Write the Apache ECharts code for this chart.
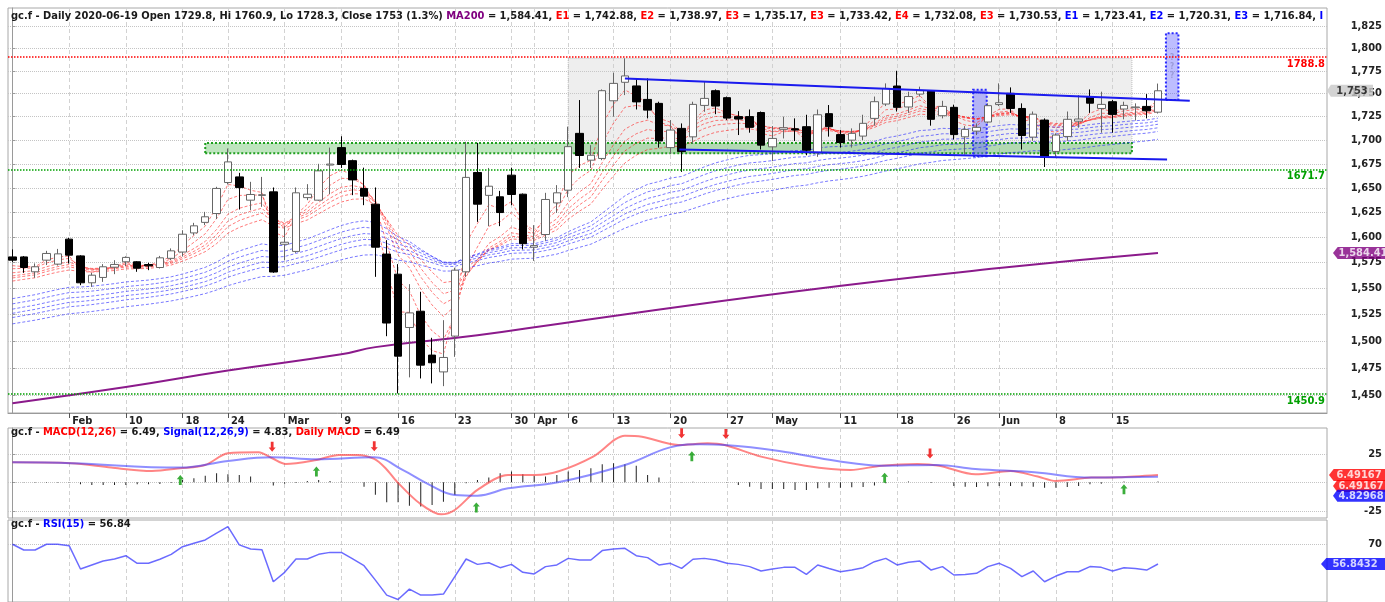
<!DOCTYPE html>
<html>
<head>
<meta charset="utf-8">
<title>gc.f Daily</title>
<script src="https://cdn.jsdelivr.net/npm/echarts@6/dist/echarts.min.js"></script>
<style>
  html, body { margin: 0; padding: 0; background: #fff; }
  #chart { width: 1385px; height: 602px; }
</style>
</head>
<body>
<div id="chart"></div>
<script>
// trading days on the chart
const dates = [
  '01-27','01-28','01-29','01-30','01-31',
  '02-03','02-04','02-05','02-06','02-07','02-10','02-11','02-12','02-13','02-14',
  '02-18','02-19','02-20','02-21','02-24','02-25','02-26','02-27','02-28',
  '03-02','03-03','03-04','03-05','03-06','03-09','03-10','03-11','03-12','03-13',
  '03-16','03-17','03-18','03-19','03-20','03-23','03-24','03-25','03-26','03-27',
  '03-30','03-31','04-01','04-02','04-03','04-06','04-07','04-08','04-09',
  '04-13','04-14','04-15','04-16','04-17','04-20','04-21','04-22','04-23','04-24',
  '04-27','04-28','04-29','04-30','05-01','05-04','05-05','05-06','05-07','05-08',
  '05-11','05-12','05-13','05-14','05-15','05-18','05-19','05-20','05-21','05-22',
  '05-26','05-27','05-28','05-29','06-01','06-02','06-03','06-04','06-05',
  '06-08','06-09','06-10','06-11','06-12','06-15','06-16','06-17','06-18','06-19'
];

const opens = [
  1580.6, 1580.6, 1566.0, 1577.4, 1573.5, 1598.2, 1581.6, 1555.3, 1560.5, 1570.5,
  1575.8, 1575.8, 1573.1, 1570.2, 1579.2, 1585.4, 1604.4, 1615.0, 1623.9, 1655.6,
  1661.4, 1637.5, 1642.4, 1646.0, 1593.1, 1586.0, 1640.1, 1637.5, 1673.7, 1692.0,
  1678.3, 1649.5, 1633.4, 1583.4, 1563.7, 1512.6, 1528.0, 1486.8, 1471.3, 1504.5,
  1566.0, 1666.0, 1642.4, 1640.9, 1663.2, 1643.6, 1590.2, 1602.8, 1634.7, 1647.7,
  1707.1, 1678.8, 1680.6, 1742.1, 1762.3, 1758.3, 1743.6, 1739.3, 1692.0, 1712.4,
  1703.4, 1737.1, 1753.1, 1745.5, 1725.0, 1725.0, 1729.4, 1692.8, 1711.4, 1712.0,
  1714.2, 1686.5, 1728.2, 1705.8, 1699.9, 1704.2, 1723.1, 1738.6, 1758.2, 1735.4,
  1749.4, 1753.1, 1726.0, 1735.0, 1703.4, 1709.5, 1719.2, 1738.0, 1750.2, 1733.8,
  1703.1, 1721.3, 1688.0, 1703.8, 1720.1, 1746.0, 1733.8, 1741.1, 1733.2, 1734.6,
  1736.0, 1729.8
];
const closes = [
  1577.4, 1570.2, 1570.9, 1584.0, 1583.6, 1582.3, 1555.3, 1562.7, 1570.9, 1573.2,
  1580.1, 1569.5, 1571.8, 1579.7, 1586.6, 1603.1, 1611.5, 1620.6, 1649.5, 1677.0,
  1650.4, 1643.3, 1643.0, 1565.8, 1595.1, 1645.0, 1643.6, 1667.7, 1674.7, 1674.3,
  1658.3, 1641.6, 1590.2, 1516.8, 1485.8, 1526.4, 1477.5, 1479.7, 1484.6, 1567.6,
  1660.9, 1633.4, 1651.8, 1624.9, 1643.3, 1593.7, 1591.8, 1638.2, 1645.0, 1693.0,
  1683.7, 1684.0, 1753.1, 1761.1, 1769.3, 1740.9, 1732.0, 1699.0, 1710.6, 1687.8,
  1738.2, 1744.7, 1736.4, 1723.4, 1722.4, 1713.5, 1694.6, 1701.7, 1713.1, 1710.6,
  1689.3, 1727.0, 1714.2, 1697.4, 1707.1, 1717.8, 1741.1, 1755.6, 1735.0, 1746.7,
  1753.1, 1722.1, 1736.0, 1705.8, 1711.3, 1713.5, 1736.8, 1740.0, 1733.8, 1704.8,
  1727.6, 1681.8, 1705.3, 1722.1, 1722.4, 1739.5, 1738.2, 1727.4, 1737.1, 1735.4,
  1731.3, 1753.0
];
const lows = [
  1575.7, 1565.0, 1560.2, 1572.6, 1572.1, 1574.1, 1553.0, 1551.4, 1556.2, 1563.7,
  1571.6, 1566.0, 1567.6, 1569.2, 1577.4, 1581.2, 1602.1, 1612.2, 1618.4, 1653.6,
  1628.0, 1627.3, 1630.7, 1565.0, 1577.4, 1584.6, 1637.5, 1636.8, 1643.6, 1670.7,
  1642.6, 1632.4, 1561.1, 1504.4, 1451.7, 1466.3, 1465.3, 1460.8, 1458.3, 1485.2,
  1561.1, 1615.5, 1611.2, 1611.2, 1632.4, 1588.0, 1576.7, 1596.5, 1624.5, 1640.6,
  1670.7, 1670.7, 1678.8, 1725.0, 1748.3, 1732.7, 1723.1, 1692.0, 1685.6, 1666.6,
  1696.3, 1730.2, 1727.6, 1721.3, 1705.3, 1707.8, 1690.0, 1677.8, 1701.7, 1699.0,
  1684.0, 1682.3, 1703.6, 1692.0, 1692.0, 1699.9, 1715.3, 1736.4, 1730.5, 1729.0,
  1746.7, 1715.3, 1723.1, 1700.6, 1684.6, 1705.3, 1717.7, 1736.4, 1729.0, 1690.0,
  1699.2, 1671.7, 1682.3, 1699.2, 1713.1, 1729.0, 1707.8, 1707.8, 1722.1, 1720.8,
  1723.1, 1728.3
];
const highs = [
  1588.0, 1581.5, 1574.2, 1586.6, 1588.5, 1599.5, 1582.3, 1565.0, 1573.5, 1577.4,
  1581.2, 1576.4, 1574.8, 1581.6, 1589.0, 1607.1, 1614.5, 1625.6, 1651.2, 1691.1,
  1665.6, 1656.3, 1661.4, 1650.5, 1611.2, 1650.5, 1653.9, 1675.0, 1692.0, 1704.0,
  1679.4, 1671.0, 1650.5, 1597.2, 1573.5, 1554.0, 1546.6, 1502.9, 1519.5, 1570.0,
  1698.1, 1697.0, 1670.7, 1647.0, 1671.0, 1644.3, 1612.2, 1645.0, 1652.9, 1714.2,
  1742.9, 1694.6, 1754.5, 1772.8, 1788.8, 1766.6, 1766.6, 1741.1, 1721.3, 1717.7,
  1741.1, 1762.9, 1754.5, 1746.7, 1730.9, 1732.7, 1730.5, 1714.9, 1725.0, 1723.1,
  1727.0, 1732.7, 1737.5, 1710.6, 1712.4, 1727.0, 1746.7, 1761.1, 1775.0, 1752.0,
  1757.5, 1753.8, 1742.1, 1737.9, 1714.8, 1717.7, 1739.3, 1761.1, 1756.7, 1739.3,
  1730.5, 1723.1, 1707.1, 1730.5, 1748.3, 1754.5, 1752.0, 1742.9, 1741.1, 1739.3,
  1749.4, 1760.9
];

// 200 day average, read at a few bars  [bar, price]
const ma200 = [
  [0, 1442.9], [10, 1457.5], [19, 1472.6], [29, 1487.5], [32, 1494.2], [41, 1505.2],
  [49, 1517.4], [69, 1547.0], [87, 1569.6], [101, 1584.41]
];

// guppy ribbon: periods and the value each line starts from at the first bar
const redPeriods = [3, 5, 8, 10, 12, 15];
const redStart = [1572, 1569, 1565, 1562, 1560, 1557];
const bluePeriods = [30, 35, 40, 45, 50, 60];
const blueStart = [1540, 1535, 1530, 1526, 1522, 1516];

// levels and drawings on the price panel
const levelLines = [
  { price: 1788.8, color: '#ff0000' },
  { price: 1671.7, color: '#00a000' },
  { price: 1450.9, color: '#00a000' }
];
const trendLines = [
  [[54, 1766.6], [103.8, 1742.1]],
  [[58.8, 1690.1], [101.8, 1679.6]]
];
const grayZone = [[49, 1686], [98.7, 1788.8]];
const greenZone = [[17, 1686], [98.7, 1697]];
const blueBoxes = [
  [[84.7, 1683], [85.9, 1754]],
  [[101.7, 1743], [102.8, 1817]]
];
const boxMarks = ['', '?\n?\n?'];

// MACD panel  [bar, value]
const macdLine = [
  [0, 17.5], [5.2, 16.7], [8.7, 12.9], [12.3, 9.9], [14.8, 12.3], [17, 15.2], [19, 25.4],
  [21.7, 26.3], [22.9, 21.1], [24.1, 16.1], [26.8, 19.6], [28.8, 24], [30.4, 24],
  [31.9, 20.5], [32.9, 12.3], [33.9, 0.6], [35.9, -18.4], [37.8, -28.1], [39, -24.3],
  [41, -6.7], [43.7, 6.4], [46.1, 6.4], [48.1, 9.4], [51.2, 22.5], [54, 40.9], [55.5, 40],
  [58.7, 32.7], [61.3, 34.2], [62.8, 32.7], [66, 22.5], [69.9, 14.6], [73.9, 10.8],
  [76.6, 14.6], [79.8, 16.1], [81.7, 14.6], [84.9, 7], [88, 9.9], [90.4, 5], [92, 1.2],
  [95.1, 4.1], [97.5, 4.4], [101, 6.49]
];
const signalLine = [
  [0, 17.5], [5.2, 16.7], [14.8, 12.9], [19, 18.7], [22.9, 21.9], [26.8, 20.2], [31.9, 21.9],
  [34.4, 10.8], [36.7, -1.8], [39, -11.1], [41, -11.7], [43.7, -5.3], [48.1, 0], [54, 15.2],
  [57.9, 30.4], [60.6, 33.3], [62.8, 32.7], [67.6, 27.5], [72.7, 18.7], [76.6, 14.6],
  [81.5, 15.2], [84.9, 11.7], [90.1, 8.8], [95.1, 4.1], [101, 4.83]
];
const macdHist = [
  -0.2, -0.2, -0.3, -0.3, -0.3, -0.5, -1.8, -2.3, -2.3, -2.3,
  -2.3, -1.8, -1.8, -1.5, -0.6, 2, 3.5, 5.8, 7.9, 7,
  6.4, 5, 0.3, -2.9, -1.2, -0.6, 1.2, 2, 1.2, 0.6,
  0.2, -3.8, -11, -17.5, -17.5, -20.5, -21.3, -19.9, -17, -11,
  -0.9, 2, 4.1, 7.9, 9.4, 7, 5.8, 5, 6.4, 9.4,
  10.8, 12.3, 15.8, 16.7, 15.8, 14.6, 6.4, 4.1, 0.5, 0.3,
  0.5, 0.3, 0, -0.5, -2.3, -3.8, -5.8, -5.8, -5.8, -6.7,
  -6.7, -5.3, -4.7, -4.7, -4.4, -4.1, -2.9, -0.9, 0, 0.6,
  0, -0.6, 0, -3.2, -3.8, -4.1, -3.5, -3.2, -3.2, -3.5,
  -3.8, -4.7, -4.7, -4.1, -3.2, -1.8, -1.2, 0, 0.6, 0,
  0, 0.6
];
const buySignals = [[14.8, 12.5], [26.8, 20], [40.9, -11.5], [59.9, 33.3], [76.9, 14.6], [98, 4.4]];
const sellSignals = [[22.9, 21.5], [31.9, 21.9], [59, 33.3], [62.9, 32.7], [80.9, 15.5]];

// RSI(15), one value per bar
const rsi = [
  70, 66.2, 66.2, 70, 70, 69.1, 53.5, 56.2, 58.8, 60.2,
  62.4, 57.3, 57.3, 60, 63.3, 68.4, 70.7, 72.9, 77.4, 81.8,
  69.6, 66.9, 66.4, 45, 51.3, 60.2, 60.2, 63.3, 64.6, 64.6,
  60.2, 55.7, 46.1, 36.1, 33.2, 40.1, 36.1, 36.1, 36.8, 48.4,
  60.2, 56.6, 57.7, 54.4, 56.6, 51.3, 50.2, 55.1, 56.2, 60.6,
  59.5, 59.5, 65.8, 66.9, 67.3, 62.4, 61.1, 56.2, 57.3, 53.9,
  60, 60.6, 59.5, 57.3, 56.6, 55.1, 52.2, 53.5, 54.6, 54.6,
  49.9, 56.2, 53.9, 51.7, 52.8, 54.4, 58.4, 60.6, 56.2, 58,
  58.8, 52.8, 55.1, 49.5, 49.9, 50.6, 55.1, 57.3, 53.9, 48.4,
  52.2, 45, 48.8, 51.7, 51.7, 55.1, 54.6, 52.2, 54.4, 53.9,
  52.8, 56.84
];

// axis ticks
const priceTicks = [1450, 1475, 1500, 1525, 1550, 1575, 1600, 1625, 1650, 1675, 1700, 1725, 1750, 1775, 1800, 1825];
const dateTicks = ['02-03','02-10','02-18','02-24','03-02','03-09','03-16','03-23','03-30','04-01',
  '04-06','04-13','04-20','04-27','05-01','05-11','05-18','05-26','06-01','06-08','06-15'];
const dateTickLabels = ['Feb','10','18','24','Mar','9','16','23','30','Apr',
  '6','13','20','27','May','11','18','26','Jun','8','15'];
const macdTicks = [-25, 0, 25];
const macdLabels = [-25, 25];
const rsiTicks = [70];

// header readouts
const emaNames = ['E1', 'E2', 'E3', 'E3', 'E4', 'E3', 'E1', 'E2', 'E3'];
const emaReadout = ['1,742.88', '1,738.97', '1,735.17', '1,733.42', '1,732.08', '1,730.53', '1,723.41', '1,720.31', '1,716.84'];

const FONT = "'DejaVu Sans Condensed', 'DejaVu Sans', 'Liberation Sans', sans-serif";
const L = Math.log;
const X_MIN = -0.39, X_MAX = 115.9;
const Y_MIN = L(1434.1), Y_MAX = L(1845.8);

let myChart = echarts.init(document.getElementById('chart'));

function ema(period, start) {
  let k = 2 / (period + 1);
  let out = [start];
  for (let i = 1; i < closes.length; i++) {
    out.push(out[i - 1] + k * (closes[i] - out[i - 1]));
  }
  return out;
}

let tickIdx = dateTicks.map(d => dates.indexOf(d));
let tickName = {};
tickIdx.forEach((idx, k) => tickName[idx] = dateTickLabels[k]);

function xAxisFor(g) {
  return {
    type: 'value', gridIndex: g, min: X_MIN, max: X_MAX,
    axisLine: { show: g === 0, lineStyle: { color: '#9a9a9a' } },
    axisTick: { show: g === 0, customValues: tickIdx, length: 5, lineStyle: { color: '#555' } },
    axisLabel: {
      show: g === 0, customValues: tickIdx, formatter: v => tickName[Math.round(v)] || '',
      align: 'left', padding: [0, 0, 0, 3], margin: 3,
      fontFamily: FONT, fontWeight: 'bold', fontSize: 11, color: '#222'
    },
    splitLine: { show: true, lineStyle: { color: '#d2d2d2', type: [4, 3] } }
  };
}

function yLabel(extra) {
  return Object.assign({
    align: 'right', margin: 55, fontFamily: FONT, fontWeight: 'bold', fontSize: 11, color: '#222'
  }, extra);
}

let candleData = dates.map((d, i) => [i, L(opens[i]), L(closes[i]), L(lows[i]), L(highs[i])]);

let ribbonSeries = [];
redPeriods.forEach((p, k) => {
  ribbonSeries.push({
    type: 'line', xAxisIndex: 0, yAxisIndex: 0, z: 2, showSymbol: false, silent: true,
    data: ema(p, redStart[k]).map((v, i) => [i, L(v)]),
    lineStyle: { color: '#ff2020', width: 1, type: [3, 2], opacity: 0.6 }
  });
});
bluePeriods.forEach((p, k) => {
  ribbonSeries.push({
    type: 'line', xAxisIndex: 0, yAxisIndex: 0, z: 2, showSymbol: false, silent: true,
    data: ema(p, blueStart[k]).map((v, i) => [i, L(v)]),
    lineStyle: { color: '#2020ff', width: 1, type: [3, 2], opacity: 0.6 }
  });
});

const TAG = 'path://M0,5 L5,0 L60,0 L60,10 L5,10 Z';
function tag(x, y, text, bg, fg, w, offX, offY) {
  return {
    value: [x, y], symbol: TAG, symbolSize: [w, 12], symbolOffset: [offX, offY],
    itemStyle: { color: bg },
    label: {
      show: true, position: 'inside', formatter: text, offset: [2, 0],
      color: fg, fontFamily: FONT, fontWeight: 'bold', fontSize: 11
    }
  };
}

let header = '{k|gc.f - Daily 2020-06-19 Open 1729.8, Hi 1760.9, Lo 1728.3, Close 1753 (1.3%) }' +
  '{p|MA200}{k| = 1,584.41, }';
emaNames.forEach((n, k) => {
  header += (k < 6 ? '{r|' : '{b|') + n + '}{k| = ' + emaReadout[k] + ', }';
});
header += '{b|I}';

let baseText = { fontFamily: FONT, fontWeight: 'bold', fontSize: 11 };
let rich = {
  k: Object.assign({ color: '#1a1a1a' }, baseText),
  p: Object.assign({ color: '#800080' }, baseText),
  r: Object.assign({ color: '#ff0000' }, baseText),
  b: Object.assign({ color: '#0000ff' }, baseText)
};

let option = {
  animation: false,
  backgroundColor: '#fff',
  title: [
    { text: header, left: 11, top: 11, padding: 0, textStyle: { rich: rich } },
    {
      text: '{k|gc.f - }{r|MACD(12,26)}{k| = 6.49, }{b|Signal(12,26,9)}{k| = 4.83, }{r|Daily MACD}{k| = 6.49}',
      left: 11, top: 427, padding: 0, textStyle: { rich: rich }
    },
    { text: '{k|gc.f - }{b|RSI(15)}{k| = 56.84}', left: 11, top: 519, padding: 0, textStyle: { rich: rich } }
  ],
  grid: [
    { left: 8, right: 57, top: 8, height: 405, show: true, borderColor: '#a8a8a8', backgroundColor: 'transparent' },
    { left: 8, right: 57, top: 428, height: 90, show: true, borderColor: '#a8a8a8' },
    { left: 8, right: 57, top: 520, height: 82, show: true, borderColor: '#a8a8a8' }
  ],
  xAxis: [xAxisFor(0), xAxisFor(1), xAxisFor(2)],
  yAxis: [
    {
      type: 'value', gridIndex: 0, position: 'right', min: Y_MIN, max: Y_MAX,
      axisLine: { show: true, lineStyle: { color: '#9a9a9a' } },
      axisTick: { show: true, customValues: priceTicks.map(L), length: 3, lineStyle: { color: '#9a9a9a' } },
      axisLabel: yLabel({
        customValues: priceTicks.map(L),
        formatter: v => Math.round(Math.exp(v)).toLocaleString('en-US')
      }),
      splitLine: { lineStyle: { color: '#c4c4c4', type: 'dotted' } }
    },
    {
      type: 'value', gridIndex: 1, position: 'right', min: -31.3, max: 47.6,
      axisLine: { show: true, lineStyle: { color: '#9a9a9a' } },
      axisTick: { show: true, customValues: macdTicks, length: 3, lineStyle: { color: '#9a9a9a' } },
      axisLabel: yLabel({ customValues: macdLabels }),
      splitLine: { lineStyle: { color: '#c4c4c4', type: 'dotted' } }
    },
    {
      type: 'value', gridIndex: 2, position: 'right', min: 31.5, max: 86.2,
      axisLine: { show: true, lineStyle: { color: '#9a9a9a' } },
      axisTick: { show: true, customValues: rsiTicks, length: 3, lineStyle: { color: '#9a9a9a' } },
      axisLabel: yLabel({ customValues: rsiTicks }),
      splitLine: { lineStyle: { color: '#c4c4c4', type: 'dotted' } }
    }
  ],
  series: [
    {
      // shaded zones behind the candles
      name: 'zones', type: 'line', xAxisIndex: 0, yAxisIndex: 0, z: 1, data: [], silent: true,
      markArea: {
        silent: true,
        data: [
          [
            { coord: [grayZone[0][0], L(grayZone[0][1])], itemStyle: { color: 'rgba(205,205,205,0.35)', borderColor: '#bdbdbd', borderWidth: 1, borderType: 'dotted' } },
            { coord: [grayZone[1][0], L(grayZone[1][1])] }
          ],
          [
            { coord: [greenZone[0][0], L(greenZone[0][1])], itemStyle: { color: 'rgba(40,170,40,0.3)', borderColor: '#1f9f1f', borderWidth: 2, borderType: 'dotted' } },
            { coord: [greenZone[1][0], L(greenZone[1][1])] }
          ]
        ].concat(blueBoxes.map((b, k) => [
          {
            coord: [b[0][0], L(b[0][1])],
            itemStyle: { color: 'rgba(90,90,255,0.4)', borderColor: '#2a2aff', borderWidth: 2, borderType: 'dotted' },
            label: {
              show: boxMarks[k] !== '', position: 'inside', formatter: boxMarks[k],
              color: '#9a9ad8', fontFamily: FONT, fontWeight: 'bold', fontSize: 8, lineHeight: 9
            }
          },
          { coord: [b[1][0], L(b[1][1])] }
        ]))
      }
    }
  ].concat(ribbonSeries).concat([
    {
      name: 'MA200', type: 'line', xAxisIndex: 0, yAxisIndex: 0, z: 3, showSymbol: false, smooth: true,
      data: ma200.map(p => [p[0], L(p[1])]),
      lineStyle: { color: '#8b1a8b', width: 2 }
    },
    {
      name: 'gc.f', type: 'candlestick', xAxisIndex: 0, yAxisIndex: 0, z: 4,
      data: candleData, encode: { x: 0, y: [1, 2, 3, 4] }, barWidth: 8,
      itemStyle: { color: '#ffffff', color0: '#000000', borderColor: '#666666', borderColor0: '#000000', borderWidth: 1 }
    },
    {
      name: 'levels', type: 'line', xAxisIndex: 0, yAxisIndex: 0, z: 5, data: [], silent: true,
      markLine: {
        silent: true, symbol: ['none', 'none'], animation: false,
        data: levelLines.map(l => ({
          yAxis: L(l.price),
          lineStyle: { color: l.color, type: 'dotted', width: 1.5 },
          label: {
            show: true, position: 'insideEndBottom', formatter: String(l.price), distance: [2, 1],
            color: l.color, fontFamily: FONT, fontWeight: 'bold', fontSize: 11
          }
        })).concat(trendLines.map(t => [
          { coord: [t[0][0], L(t[0][1])], lineStyle: { color: '#1a1aee', type: 'solid', width: 2 }, label: { show: false } },
          { coord: [t[1][0], L(t[1][1])] }
        ]))
      }
    },
    {
      name: 'priceTags', type: 'scatter', xAxisIndex: 0, yAxisIndex: 0, z: 10, clip: false, silent: true,
      data: [
        tag(X_MAX, L(closes[closes.length - 1]), '1,753', '#c8c8c8', '#111', 46, 23, 0),
        tag(X_MAX, L(ma200[ma200.length - 1][1]), '1,584.41', '#800080', '#fff', 56, 34, 0)
      ]
    },
    // MACD panel
    {
      name: 'hist', type: 'bar', xAxisIndex: 1, yAxisIndex: 1, barWidth: 1, silent: true,
      data: macdHist.map((v, i) => [i, v]), itemStyle: { color: '#222' }
    },
    {
      name: 'MACD', type: 'line', xAxisIndex: 1, yAxisIndex: 1, showSymbol: false, smooth: 0.3,
      data: macdLine, lineStyle: { color: '#ff3333', width: 2, opacity: 0.6 }
    },
    {
      name: 'Signal', type: 'line', xAxisIndex: 1, yAxisIndex: 1, showSymbol: false, smooth: 0.4,
      data: signalLine, lineStyle: { color: '#3333ff', width: 2, opacity: 0.55 }
    },
    {
      name: 'buy', type: 'scatter', xAxisIndex: 1, yAxisIndex: 1, z: 6, silent: true,
      symbol: 'path://M5,0 L10,5 L7,5 L7,12 L3,12 L3,5 L0,5 Z', symbolSize: [7, 10], symbolOffset: [0, 12],
      data: buySignals, itemStyle: { color: '#0a9a0a' }
    },
    {
      name: 'sell', type: 'scatter', xAxisIndex: 1, yAxisIndex: 1, z: 6, silent: true,
      symbol: 'path://M5,12 L10,7 L7,7 L7,0 L3,0 L3,7 L0,7 Z', symbolSize: [7, 10], symbolOffset: [0, -11],
      data: sellSignals, itemStyle: { color: '#ee0000' }
    },
    {
      name: 'macdTags', type: 'scatter', xAxisIndex: 1, yAxisIndex: 1, z: 10, clip: false, silent: true,
      data: [
        tag(X_MAX, macdLine[macdLine.length - 1][1], '6.49167', '#ff0000', '#fff', 56, 30, 0),
        tag(X_MAX, macdLine[macdLine.length - 1][1], '6.49167', '#ff0000', '#fff', 52, 32, 11),
        tag(X_MAX, signalLine[signalLine.length - 1][1], '4.82968', '#0000ff', '#fff', 52, 32, 19)
      ]
    },
    // RSI panel
    {
      name: 'RSI', type: 'line', xAxisIndex: 2, yAxisIndex: 2, showSymbol: false,
      data: rsi.map((v, i) => [i, v]), lineStyle: { color: '#3a3aff', width: 1.5, opacity: 0.75 }
    },
    {
      name: 'rsiTag', type: 'scatter', xAxisIndex: 2, yAxisIndex: 2, z: 10, clip: false, silent: true,
      data: [tag(X_MAX, rsi[rsi.length - 1], '56.8432', '#0000ff', '#fff', 64, 26, 0)]
    }
  ])
};

myChart.setOption(option);
</script>
</body>
</html>
